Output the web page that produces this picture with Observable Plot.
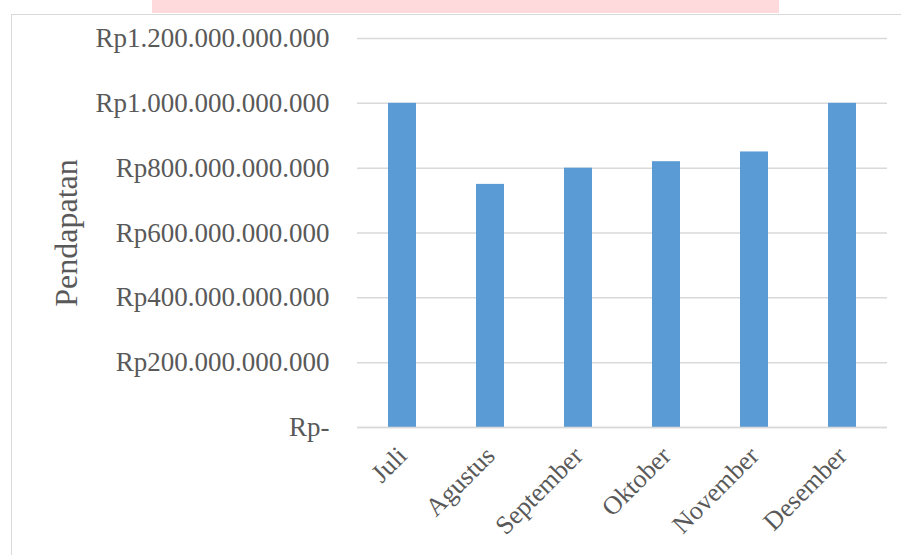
<!DOCTYPE html>
<html>
<head>
<meta charset="utf-8">
<script src="https://cdn.jsdelivr.net/npm/d3@7"></script>
<script src="https://cdn.jsdelivr.net/npm/@observablehq/plot@0.6"></script>
<style>
  html, body { margin: 0; padding: 0; background: #fff; }
  #wrap { position: relative; width: 901px; height: 555px; overflow: hidden; }
  #pink { position: absolute; left: 152px; top: 0; width: 627px; height: 13px; background: #ffdadd; }
  #frame { position: absolute; left: 11px; top: 14px; width: 900px; height: 560px; border-left: 1.5px solid #d9d9d9; border-top: 1.5px solid #d9d9d9; box-sizing: border-box; }
  #chart { position: absolute; left: 0; top: 0; }
</style>
</head>
<body>
<div id="wrap">
  <div id="pink"></div>
  <div id="frame"></div>
  <div id="chart"></div>
</div>
<script>
const months = ["Juli", "Agustus", "September", "Oktober", "November", "Desember"];
const revenue = [1000e9, 750e9, 800e9, 820e9, 850e9, 1000e9];
const yTicks = [0, 200e9, 400e9, 600e9, 800e9, 1000e9, 1200e9];
const yTitle = "Pendapatan";

const data = months.map((m, i) => ({month: m, value: revenue[i]}));
const fmt = v => v === 0 ? "Rp-" : "Rp" + d3.format(",.0f")(v).replace(/,/g, ".");

const chart = Plot.plot({
  width: 901,
  height: 555,
  marginLeft: 357,
  marginRight: 14,
  marginTop: 38,
  marginBottom: 128,
  style: {fontFamily: "'Liberation Serif', 'Times New Roman', serif", background: "transparent", color: "#595959"},
  x: {domain: months, paddingInner: 0.68, paddingOuter: 0.34},
  y: {domain: [0, 1200e9]},
  marks: [
    Plot.gridY(yTicks, {stroke: "#d9d9d9", strokeOpacity: 1, strokeWidth: 1.5}),
    Plot.barY(data, {x: "month", y: "value", fill: "#5b9bd5"}),
    Plot.ruleY([0], {stroke: "#d9d9d9", strokeWidth: 1.5}),
    Plot.axisY(yTicks, {tickSize: 0, tickPadding: 28, tickFormat: fmt, fontSize: 27, label: null, fill: "#595959"}),
    Plot.axisX({tickSize: 0, tickPadding: 24, tickRotate: -45, fontSize: 26, label: null, fill: "#595959"}),
    Plot.text([yTitle], {frameAnchor: "left", dx: -291, rotate: -90, textAnchor: "middle", fontSize: 32, fill: "#595959"})
  ]
});
document.getElementById("chart").appendChild(chart);
</script>
</body>
</html>
